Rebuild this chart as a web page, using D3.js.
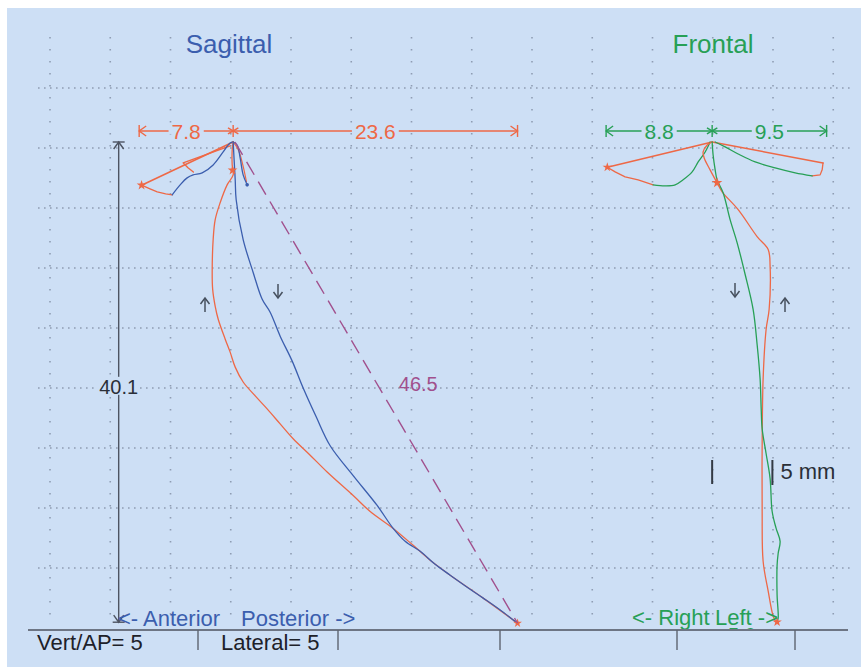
<!DOCTYPE html>
<html><head><meta charset="utf-8">
<script src="https://cdn.jsdelivr.net/npm/d3@7"></script>
<style>html,body{margin:0;padding:0;background:#fff;} svg{display:block;font-family:"Liberation Sans",Arial,sans-serif;}</style>
</head><body><svg id="c" width="861" height="667"></svg>
<script>
// ---------- data (mm) ----------
const viewTitles = ["Sagittal", "Frontal"];
const gridXmm = d3.range(0, 66, 5);
const gridYmm = d3.range(0, 41, 5);
const sagOrigin = [15.2, 4.5];
const froOrigin = [54.95, 4.5];

// sagittal: x = posterior (+), y = down (+)
const sagOpening = [[0,0],[0.08,1.49],[0.17,3.15],[0.25,4.81],[0.83,8.13],[1.66,10.87],[2.41,13.11],[3.07,14.19],[3.90,16.18],[4.90,18.26],[5.81,20.50],[6.89,22.90],[8.05,25.31],[9.96,27.80],[11.95,30.29],[13.28,32.20],[14.27,33.28],[15.52,34.11],[16.76,35.19],[18.01,36.10],[19.42,37.10],[20.75,38.01],[22.16,39.00],[23.24,39.83],[23.6,40.1]];
const sagClosing = [[23.6,40.1],[20.75,38.01],[18.01,36.10],[16.35,34.85],[14.94,33.61],[13.28,32.20],[11.37,30.79],[9.96,29.46],[7.80,27.50],[6.39,26.10],[4.98,24.73],[3.90,23.49],[2.82,22.24],[1.83,21.16],[0.83,20.00],[0.17,18.76],[-0.25,17.51],[-0.66,16.43],[-1.24,14.77],[-1.49,13.69],[-1.70,12.28],[-1.74,10.87],[-1.66,8.13],[-1.49,6.47],[-1.08,5.06],[-0.50,3.57],[0,2.74],[-0.08,1.91],[-0.08,0.66],[0,0]];
const sagProtRedOut = [[0,0],[-7.6,3.6]];
const sagProtRedOut2 = [[-0.25,0.33],[-4.15,1.74],[-3.75,2.15],[-3.3,2.5]];
const sagProtRedBack = [[-7.6,3.6],[-6.9,3.9],[-6.3,4.15],[-5.6,4.32],[-5.06,4.4]];
const sagProtBlueBack = [[-5.06,4.4],[-4.4,3.57],[-3.82,2.99],[-3.32,2.74],[-2.57,2.57],[-1.66,1.91],[-0.83,0.83],[-0.25,0.08],[0,0]];
const sagBlueShort = [[0,0],[0.33,0.25],[0.58,1.33],[0.83,2.74],[1.16,3.57]];
const sagRedShort = [[0,0],[0.45,0.7],[0.8,1.9],[1.1,3.3]];

// frontal: x = left (+), y = down (+)
const froOpening = [[0,0],[0.08,1.08],[0.25,2.32],[0.41,3.15],[0.91,4.23],[1.49,6.47],[2.07,8.38],[2.74,11.04],[3.40,13.94],[3.73,16.85],[3.98,19.75],[4.07,22.24],[4.15,23.90],[4.48,25.98],[4.81,28.05],[4.98,30.79],[5.31,32.20],[5.64,33.28],[5.48,34.27],[5.39,35.27],[5.39,37.76],[5.48,39.67],[5.39,40.0]];
const froClosing = [[5.3,40.0],[5.06,39.5],[4.65,37.43],[4.23,34.94],[4.15,30.79],[4.15,25.31],[4.23,19.75],[4.48,15.60],[4.73,13.94],[4.81,10.37],[4.65,8.96],[3.73,7.88],[2.16,5.64],[0.83,4.15],[0.41,3.40],[-0.17,2.32],[-0.66,1.33],[-0.75,0.83],[-0.41,0.25],[0,0]];
const froLeftRedOut = [[0,0],[-8.7,2.1]];
const froLeftRedBack = [[-8.7,2.1],[-8.05,2.49],[-7.22,2.90],[-6.14,3.15],[-4.90,3.57]];
const froLeftGreenBack = [[-4.90,3.57],[-3.90,3.65],[-3.07,3.57],[-2.41,3.15],[-1.66,2.49],[-1.16,1.66],[-0.58,0.83],[-0.17,0]];
const froRightRedOut = [[0,0],[9.2,1.75]];
const froRightRedHook = [[9.2,1.75],[9.13,2.32],[8.96,2.74],[8.3,2.82]];
const froRightGreenBack = [[8.3,2.82],[6.89,2.57],[5.23,2.16],[3.57,1.66],[2.16,1.0],[1.08,0.41],[0.25,0]];

// measurements (mm)
const sagWidths = [7.8, 23.6];   // anterior, posterior
const froWidths = [8.8, 9.5];    // right, left
const sagVertical = 40.1;
const sagDiagonal = 46.5;
const scaleBarMm = 5;
const statusLabels = ["Vert/AP= 5", "Lateral= 5"];
const directionLabels = ["<- Anterior", "Posterior ->", "<- Right", "Left ->", "5.0"];

// ---------- styles ----------
const BG = "#cddff5", RED = "#ee6846", BLUE = "#3b5eae", GREEN = "#27a056", PURPLE = "#a1508d";

const svg = d3.select("#c");
const X = d3.scaleLinear().domain([0, 65]).range([50, 833.25]);
const Y = d3.scaleLinear().domain([0, 45]).range([88, 628]);

svg.append("rect").attr("x", 7).attr("y", 8).attr("width", 854).attr("height", 659).attr("fill", BG);

// grid
const g = svg.append("g");
g.selectAll("line.v").data(gridXmm).join("line")
  .attr("x1", d => X(d)).attr("x2", d => X(d)).attr("y1", 37).attr("y2", 624)
  .attr("stroke", "#8f9db3").attr("stroke-width", 1.6).attr("stroke-dasharray", "1.6 10.4");
g.selectAll("line.h").data(gridYmm).join("line")
  .attr("x1", 38).attr("x2", 852).attr("y1", d => Y(d)).attr("y2", d => Y(d))
  .attr("stroke", "#8f9db3").attr("stroke-width", 1.6).attr("stroke-dasharray", "1.6 4.4");

const plot = svg.append("g");
const line = d3.line();
const smooth = d3.line().curve(d3.curveCatmullRom.alpha(0.5));
function pt(o, d) { return [X(o[0] + d[0]), Y(o[1] + d[1])]; }
function trace(o, data, color, w, sm) {
  plot.append("path").attr("d", (sm ? smooth : line)(data.map(d => pt(o, d))))
    .attr("fill", "none").attr("stroke", color).attr("stroke-width", w || 1.3)
    .attr("stroke-linejoin", "round").attr("stroke-linecap", "round");
}
function marker(o, d, color, size) {
  const p = pt(o, d);
  plot.append("path").attr("d", d3.symbol(d3.symbolStar, size || 28)())
    .attr("transform", `translate(${p[0]},${p[1]})`).attr("fill", color);
}

// --- sagittal traces ---
trace(sagOrigin, sagProtRedOut, RED, 1.6);
trace(sagOrigin, sagProtRedOut2, RED, 1.4);
trace(sagOrigin, sagProtRedBack, RED, 1.3);
trace(sagOrigin, sagProtBlueBack, BLUE, 1.3, true);
trace(sagOrigin, sagRedShort, RED, 1.2, true);
trace(sagOrigin, sagBlueShort, BLUE, 1.3, true);
trace(sagOrigin, sagClosing, RED, 1.3, true);
trace(sagOrigin, sagOpening, BLUE, 1.3, true);
marker(sagOrigin, sagProtRedOut[1], RED, 30);
marker(sagOrigin, [-0.05, 2.35], RED, 30);
marker(sagOrigin, sagOpening[sagOpening.length - 1], RED, 24);
{ const p = pt(sagOrigin, [1.16, 3.57]); plot.append("circle").attr("cx", p[0]).attr("cy", p[1]).attr("r", 1.8).attr("fill", BLUE); }

// --- frontal traces ---
trace(froOrigin, froLeftRedOut, RED, 1.5);
trace(froOrigin, froLeftRedBack, RED, 1.3);
trace(froOrigin, froLeftGreenBack, GREEN, 1.3, true);
trace(froOrigin, froRightRedOut, RED, 1.5);
trace(froOrigin, froRightRedHook, RED, 1.3);
trace(froOrigin, froRightGreenBack, GREEN, 1.3, true);
trace(froOrigin, froClosing, RED, 1.3, true);
trace(froOrigin, froOpening, GREEN, 1.3, true);
marker(froOrigin, froLeftRedOut[1], RED, 28);
marker(froOrigin, [0.41, 3.4], RED, 34);
marker(froOrigin, froOpening[froOpening.length - 1], RED, 28);

// --- measurement bars ---
const measY = -0.92;
function hMeasure(o, widths, color) {
  const yy = Y(o[1] + measY);
  const xl = X(o[0] - widths[0]), xc = X(o[0]), xr = X(o[0] + widths[1]);
  const m = plot.append("g").attr("stroke", color).attr("stroke-width", 1.4).attr("fill", "none");
  m.append("line").attr("x1", xl).attr("x2", xr).attr("y1", yy).attr("y2", yy);
  [[xl, 1], [xr, -1]].forEach(([x, s]) => {
    m.append("line").attr("x1", x).attr("x2", x).attr("y1", yy - 6).attr("y2", yy + 6);
    m.append("path").attr("d", `M${x + 7 * s},${yy - 5}L${x},${yy}L${x + 7 * s},${yy + 5}`);
  });
  [0, 60, 120].forEach(a => {
    const r = 6, rad = a * Math.PI / 180;
    m.append("line").attr("x1", xc - r * Math.sin(rad)).attr("x2", xc + r * Math.sin(rad))
      .attr("y1", yy - r * Math.cos(rad)).attr("y2", yy + r * Math.cos(rad));
  });
  [[(xl + xc) / 2, widths[0]], [(xc + xr) / 2, widths[1]]].forEach(([cx, v]) => {
    const t = plot.append("text").attr("x", cx).attr("y", yy + 8).attr("text-anchor", "middle")
      .attr("font-size", 21).attr("fill", color).text(v.toFixed(1));
    const bb = t.node().getBBox();
    plot.insert("rect", () => t.node()).attr("x", bb.x - 3).attr("y", yy - 3).attr("width", bb.width + 6).attr("height", 6).attr("fill", BG);
  });
}
hMeasure(sagOrigin, sagWidths, RED);
hMeasure(froOrigin, froWidths, GREEN);

// vertical 40.1
{
  const xv = X(sagOrigin[0] - 9.5), y0 = Y(sagOrigin[1]), y1 = Y(sagOrigin[1] + sagVertical) - 1;
  const m = plot.append("g").attr("stroke", "#4d5462").attr("stroke-width", 1.4).attr("fill", "none");
  m.append("line").attr("x1", xv).attr("x2", xv).attr("y1", y0).attr("y2", y1);
  m.append("line").attr("x1", xv - 6).attr("x2", xv + 6).attr("y1", y0).attr("y2", y0);
  m.append("path").attr("d", `M${xv - 5},${y0 + 7}L${xv},${y0}L${xv + 5},${y0 + 7}`);
  m.append("line").attr("x1", xv - 6).attr("x2", xv + 6).attr("y1", y1).attr("y2", y1);
  m.append("path").attr("d", `M${xv - 5},${y1 - 7}L${xv},${y1}L${xv + 5},${y1 - 7}`);
  const ym = Y(sagOrigin[1] + 20.4);
  plot.append("rect").attr("x", xv - 21).attr("y", ym - 10).attr("width", 42).attr("height", 18).attr("fill", BG);
  plot.append("text").attr("x", xv).attr("y", ym + 7).attr("text-anchor", "middle").attr("font-size", 20)
    .attr("fill", "#2a2f38").text(sagVertical.toFixed(1));
}
// diagonal 46.5
{
  const p0 = pt(sagOrigin, [0.15, 0]), p1 = pt(sagOrigin, [sagWidths[1], sagVertical]);
  plot.append("line").attr("x1", p0[0]).attr("y1", p0[1]).attr("x2", p1[0]).attr("y2", p1[1])
    .attr("stroke", PURPLE).attr("stroke-width", 1.4).attr("stroke-dasharray", "15 8");
  plot.append("text").attr("x", (p0[0] + p1[0]) / 2 + 42).attr("y", (p0[1] + p1[1]) / 2 + 8)
    .attr("text-anchor", "middle").attr("font-size", 20).attr("fill", PURPLE).text(sagDiagonal.toFixed(1));
}

// direction arrows
function dirArrow(x, yTip, up) {
  const s = up ? 1 : -1;
  const a = plot.append("g").attr("stroke", "#46505e").attr("stroke-width", 1.5).attr("fill", "none");
  a.append("line").attr("x1", x).attr("x2", x).attr("y1", yTip).attr("y2", yTip + 14 * s);
  a.append("path").attr("d", `M${x - 4.5},${yTip + 6 * s}L${x},${yTip}L${x + 4.5},${yTip + 6 * s}`);
}
dirArrow(205, 298, true);
dirArrow(278, 298, false);
dirArrow(735, 297, false);
dirArrow(785, 298, true);

// 5 mm scale bar
{
  const xa = X(froOrigin[0]), xb = X(froOrigin[0] + scaleBarMm);
  plot.append("line").attr("x1", xa).attr("x2", xa).attr("y1", 460).attr("y2", 484).attr("stroke", "#333a44").attr("stroke-width", 2);
  plot.append("line").attr("x1", xb).attr("x2", xb).attr("y1", 460).attr("y2", 485).attr("stroke", "#333a44").attr("stroke-width", 2);
  plot.append("text").attr("x", xb + 8).attr("y", 479).attr("font-size", 22).attr("fill", "#2a2f38").text(scaleBarMm + " mm");
}

// titles
plot.append("text").attr("x", 229).attr("y", 53).attr("text-anchor", "middle").attr("font-size", 26).attr("fill", BLUE).text(viewTitles[0]);
plot.append("text").attr("x", 713).attr("y", 53).attr("text-anchor", "middle").attr("font-size", 26).attr("fill", GREEN).text(viewTitles[1]);

// direction labels
plot.append("text").attr("x", 118).attr("y", 626).attr("font-size", 22).attr("fill", BLUE).text(directionLabels[0]);
plot.append("text").attr("x", 241).attr("y", 626).attr("font-size", 22).attr("fill", BLUE).text(directionLabels[1]);
plot.append("text").attr("x", 728).attr("y", 642).attr("font-size", 20).attr("fill", GREEN).text(directionLabels[4]);
plot.append("text").attr("x", 632).attr("y", 625).attr("font-size", 22).attr("fill", GREEN).text(directionLabels[2]);
plot.append("text").attr("x", 715).attr("y", 625).attr("font-size", 22).attr("fill", GREEN).text(directionLabels[3]);

// status bar
svg.append("rect").attr("x", 7).attr("y", 630).attr("width", 854).attr("height", 37).attr("fill", BG);
svg.append("line").attr("x1", 28).attr("x2", 848).attr("y1", 630).attr("y2", 630).attr("stroke", "#6d7584").attr("stroke-width", 2);
[198, 338, 500, 677, 795].forEach(x => svg.append("line").attr("x1", x).attr("x2", x).attr("y1", 630).attr("y2", 650).attr("stroke", "#5d6470").attr("stroke-width", 1.4));
svg.append("text").attr("x", 37).attr("y", 650).attr("font-size", 22).attr("fill", "#1d2129").text(statusLabels[0]);
svg.append("text").attr("x", 221).attr("y", 650).attr("font-size", 22).attr("fill", "#1d2129").text(statusLabels[1]);
</script></body></html>
